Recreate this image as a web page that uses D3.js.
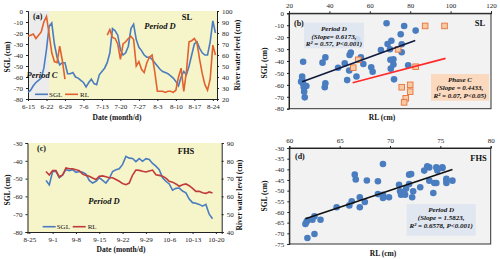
<!DOCTYPE html>
<html>
<head>
<meta charset="utf-8">
<script src="https://cdn.jsdelivr.net/npm/d3@7"></script>
<style>
body{margin:0;background:#fff}
svg{display:block}
text{font-family:"Liberation Serif","Times New Roman",serif}
.tick text{font-size:7px}
</style>
</head>
<body>
<svg id="chart" width="500" height="259"></svg>
<script>
// ---- (a) SL, daily series from 6-15
var aStart = "6-15";
var aSGL = [-74,-72,-68,-65,-63,-61,-52,-35,-14,-11,-30,-42,-49,-47,-47,-57,-57,-56,-60,-61,-63,-65,-69,-65,-62,-66,-67,-58,-55,-52,-47,-38,-16,-18,-22,-35,-40,-38,-32,-16,-12,-26,-33,-36,-40,-42,-42,-44,-47,-50,-53,-55,-56,-57,-59,-61,-64,-68,-60,-55,-58,-50,-40,-30,-28,-34,-38,-40,-40,-28,-9,-20];
var aRL = [77,78,79,75,78,81,90,95,79,62,54,53,68,55,38,null,null,null,null,null,null,null,null,null,null,null,null,null,null,null,78,83,76,75,70,56,70,72,75,77,74,50,54,47,44,53,58,60,45,27,27,27,26,27,27,26,28,40,48,27,45,72,73,75,71,56,43,33,28,38,69,60];
var aTicks = ["6-15","6-22","6-29","7-6","7-13","7-20","7-27","8-3","8-10","8-17","8-24"];
var aPeriodC = ["6-15","6-23"];

// ---- (b) SL scatter
var bRL_D = [27,26.5,26.6,27,26,27.3,27.5,27.8,28.6,36.6,38,38,37.7,44.3,47.6,48.8,49.8,50,50.6,53.4,53.8,55.6,56.8,60.7,61.4,65.5,68.3,68.8,70,70.7,70.2,71.7,71.7,70.4,72,75.3,75.8,75.8,77,79,82.7];
var bSGL_D = [-40.6,-53,-56,-59,-57.3,-62,-65.7,-70.5,-61,-41.4,-37,-58.7,-62,-45.6,-42,-56,-48,-35,-33,-53,-21.8,-37,-42.5,-45.3,-49,-30.8,-8.4,-25.7,-30.2,-23,-39,-38.6,-43,-46.4,-55.4,-17.6,-26,-32.7,-10.6,-43.6,-14.5];
var bRL_C = [54.3,51.8,74,75.8,80,80,77.8,77,82.7,87.4,97];
var bSGL_C = [-39,-45.6,-30.2,-62,-60,-65.7,-71.3,-74.7,-44.8,-10.6,-10.6];
var bFitD = {slope:0.6173, icpt:-73.66, from:26.5, to:82.5};
var bFitC = {slope:0.4433, icpt:-81.03, from:51.5, to:97.5};

// ---- (c) FHS, daily series from 8-30
var cStart = "8-30";
var cSGL = [-51,-53.5,-46,-46,-49.5,-48,-45,-45.5,-45,-46.5,-46,-46.5,-47.5,-51,-52.5,-51.5,-49.5,-51,-52.5,-50,-46,-45,-44.5,-42,-37.5,-38.5,-38.7,-40.5,-38.8,-40.3,-38.8,-39.2,-41.5,-43,-45,-49.5,-51.5,-53,-56.5,-55.5,-55.3,-57,-58,-61.5,-63.5,-63.8,-64.5,-65.5,-64.5,-70,-72.5];
var cRL = [74,72,74.5,74.5,71,72,76,75.5,75.5,75,74.5,72.5,71.8,71.3,70.3,69.5,71.3,71.5,71,70.5,70.5,69.5,68.5,67.2,66.6,67.5,72,74.8,74.6,74.1,73.7,74.3,74.8,72.2,71.8,71.3,70.3,68.5,68,67,65.7,66.5,67,66,64.5,62.8,62.9,62,61.7,62.5,61.9];
var cTicks = ["8-25","9-1","9-8","9-15","9-22","9-29","10-6","10-13","10-20"];

// ---- (d) FHS scatter
var dRL = [61.6,61.7,61.8,61.8,62.3,62.5,62.5,63.1,64.7,65.96,66.2,66.5,66.6,67,67,67.5,67.7,68.8,68.8,69.3,69.3,69.3,69.9,70.9,71,71.1,71.4,71.5,71.6,71.9,71.9,72.1,72.2,72.3,73,73.4,73.7,73.9,73.9,74.3,74.4,74.6,74.6,74.7,75.2,75.2,75.6,75.6,75.6,76.2];
var dSGL = [-65.6,-64.7,-64,-72.2,-63.6,-62,-70.3,-63.6,-57.8,-56.9,-55,-42.5,-44.8,-53.1,-57.8,-55.3,-45.2,-45.6,-51.6,-37.5,-53.4,-51.9,-53.1,-47.2,-50.3,-51.9,-50.6,-51.9,-49,-46.9,-42.5,-42.2,-53.1,-50.3,-48.4,-40.6,-38.6,-39.1,-45.3,-51.1,-46.4,-46.4,-39.1,-40.6,-39.1,-39.4,-44.4,-45.3,-46.4,-45.3];
var dFit = {slope:1.5823, icpt:-160.6, from:61.6, to:76.2};

var BLUE = "#4a7dc0", ORANGE = "#e1622f", RED = "#c23b3b";
var YELLOW = "#f6f4c9", GRAY = "#ececec", PANEL = "#f2f2f2";

var svg = d3.select("#chart");
var parse = d3.timeParse("%m-%d");
var fmtDay = d3.timeFormat("%-m-%-d");
var num = function(d){ return String(d); };

function daily(start, vals){
	var s = parse(start);
	return vals.map(function(v,i){ return {t:d3.timeDay.offset(s,i), v:v}; });
}

function label(x, y, str, size, opts){
	opts = opts || {};
	var t = svg.append("text").attr("x", x).attr("y", y)
		.attr("font-size", size + "px")
		.attr("font-weight", opts.weight || "bold")
		.attr("font-style", opts.italic ? "italic" : "normal")
		.attr("text-anchor", opts.anchor || "middle")
		.attr("fill", "#111")
		.text(str);
	if (opts.rotate) t.attr("transform", "rotate(-90," + x + "," + y + ")");
	return t;
}

function styleAxis(g){
	g.selectAll(".domain").attr("stroke", "#222");
	g.selectAll(".tick line").attr("stroke", "#222");
	g.selectAll(".tick text").attr("fill", "#222");
}

// time series panel (a) and (c)
function timePanel(cfg){
	var x = d3.scaleTime().domain(cfg.xdom).range([cfg.x0, cfg.x1]);
	var yl = d3.scaleLinear().domain(cfg.ldom).range([cfg.y1, cfg.y0]);
	var yr = d3.scaleLinear().domain(cfg.rdom).range([cfg.y1, cfg.y0]);

	svg.append("rect").attr("x", cfg.x0).attr("y", cfg.y0)
		.attr("width", cfg.x1 - cfg.x0).attr("height", cfg.y1 - cfg.y0)
		.attr("fill", YELLOW);
	if (cfg.shade){
		svg.append("rect").attr("x", x(parse(cfg.shade[0]))).attr("y", cfg.y0)
			.attr("width", x(parse(cfg.shade[1])) - x(parse(cfg.shade[0])))
			.attr("height", cfg.y1 - cfg.y0).attr("fill", GRAY);
	}

	var gl = svg.append("g").attr("transform", "translate(" + cfg.x0 + ",0)")
		.call(d3.axisLeft(yl).tickValues(d3.range(cfg.ldom[0], cfg.ldom[1] + 1, 10)).tickSize(2).tickFormat(num));
	var gr = svg.append("g").attr("transform", "translate(" + cfg.x1 + ",0)")
		.call(d3.axisRight(yr).tickValues(d3.range(cfg.rdom[0], cfg.rdom[1] + 1, 10)).tickSize(2).tickFormat(num));
	var gb = svg.append("g").attr("transform", "translate(0," + cfg.y1 + ")")
		.call(d3.axisBottom(x).tickValues(cfg.ticks.map(parse)).tickSize(2).tickFormat(fmtDay));
	[gl, gr, gb].forEach(styleAxis);

	var line = function(sc){
		return d3.line().defined(function(d){ return d.v != null; })
			.x(function(d){ return x(d.t); }).y(function(d){ return sc(d.v); });
	};
	svg.append("path").datum(cfg.sgl).attr("fill", "none").attr("stroke", BLUE)
		.attr("stroke-width", 1.6).attr("d", line(yl));
	svg.append("path").datum(cfg.rl).attr("fill", "none").attr("stroke", cfg.rlColor)
		.attr("stroke-width", 1.6).attr("d", line(yr));

	// legend
	var L = cfg.legend;
	svg.append("line").attr("x1", L[0]).attr("x2", L[0] + 13).attr("y1", L[1]).attr("y2", L[1])
		.attr("stroke", BLUE).attr("stroke-width", 1.6);
	label(L[0] + 14, L[1] + 2.5, "SGL", 7, {anchor:"start", weight:"normal"});
	svg.append("line").attr("x1", L[0] + 30).attr("x2", L[0] + 43).attr("y1", L[1]).attr("y2", L[1])
		.attr("stroke", cfg.rlColor).attr("stroke-width", 1.6);
	label(L[0] + 45, L[1] + 2.5, "RL", 7, {anchor:"start", weight:"normal"});
}

// scatter panel (b) and (d)
function scatterPanel(cfg){
	var x = d3.scaleLinear().domain(cfg.xdom).range([cfg.x0, cfg.x1]);
	var y = d3.scaleLinear().domain(cfg.ydom).range([cfg.y1, cfg.y0]);
	svg.append("rect").attr("x", cfg.x0).attr("y", cfg.y0)
		.attr("width", cfg.x1 - cfg.x0).attr("height", cfg.y1 - cfg.y0)
		.attr("fill", PANEL).attr("stroke", "#333").attr("stroke-width", 1);
	var gt = svg.append("g").attr("transform", "translate(0," + cfg.y0 + ")")
		.call(d3.axisTop(x).tickValues(cfg.xticks).tickSize(2).tickFormat(num));
	var gl = svg.append("g").attr("transform", "translate(" + cfg.x0 + ",0)")
		.call(d3.axisLeft(y).tickValues(cfg.yticks).tickSize(2).tickFormat(num));
	[gt, gl].forEach(styleAxis);
	cfg.x = x; cfg.y = y;
	return cfg;
}

function fitLine(p, f, color){
	svg.append("line")
		.attr("x1", p.x(f.from)).attr("y1", p.y(f.slope * f.from + f.icpt))
		.attr("x2", p.x(f.to)).attr("y2", p.y(f.slope * f.to + f.icpt))
		.attr("stroke", color).attr("stroke-width", 1.6);
}

function noteBox(x, y, w, h, fill, lines){
	svg.append("rect").attr("x", x).attr("y", y).attr("width", w).attr("height", h)
		.attr("fill", fill).attr("fill-opacity", 0.88);
	lines.forEach(function(s, i){
		label(x + w / 2, y + 8.3 + i * 7.6, s, 7, {italic:true});
	});
}

// ===== (a)
timePanel({
	x0:28, x1:217, y0:11, y1:99,
	xdom:[parse("6-15"), d3.timeHour.offset(parse("8-25"), 14)],
	ldom:[-80,0], rdom:[20,100],
	ticks:aTicks, shade:aPeriodC,
	sgl:daily(aStart, aSGL), rl:daily(aStart, aRL), rlColor:ORANGE,
	legend:[35, 94.3]
});
label(33, 18.5, "(a)", 8, {anchor:"start"});
label(187, 19.5, "SL", 8.5);
label(160, 28.5, "Period D", 8.5, {italic:true});
label(42, 77.5, "Period C", 8.5, {italic:true});
label(117, 119.5, "Date (month/d)", 7.5);
label(9.5, 57, "SGL (cm)", 7.5, {rotate:true});
label(239.5, 55, "River water level (cm)", 7.5, {rotate:true});

// ===== (b)
var pb = scatterPanel({
	x0:289, x1:491, y0:13.3, y1:108.7,
	xdom:[20,120], ydom:[-80,0],
	xticks:d3.range(20,121,20), yticks:d3.range(-80,1,10)
});
pb.g = svg.append("g");
pb.g.selectAll("circle").data(d3.zip(bRL_D, bSGL_D)).enter().append("circle")
	.attr("cx", function(d){ return pb.x(d[0]); })
	.attr("cy", function(d){ return pb.y(d[1]); })
	.attr("r", 3.3).attr("fill", BLUE);
pb.g.selectAll("rect").data(d3.zip(bRL_C, bSGL_C)).enter().append("rect")
	.attr("x", function(d){ return pb.x(d[0]) - 2.8; })
	.attr("y", function(d){ return pb.y(d[1]) - 2.8; })
	.attr("width", 5.6).attr("height", 5.6)
	.attr("fill", "#f9c9a3").attr("stroke", "#e8743b").attr("stroke-width", 0.9);
fitLine(pb, bFitD, "#0f1a3d");
fitLine(pb, bFitC, "#ff2a2a");
noteBox(304, 22.7, 60, 25.6, "#dde5f0", ["Period D", "(Slope= 0.6173,", "R\u00b2 = 0.57, P<0.001)"]);
noteBox(431, 74, 58, 26.7, "#fbd5b6", ["Phase C", "(Slope = 0.4433,", "R\u00b2 = 0.07,  P<0.05)"]);
label(294, 26, "(b)", 8, {anchor:"start"});
label(480, 26, "SL", 8.5);
label(382, 119.5, "RL (cm)", 7.5);
label(267, 63, "SGL (cm)", 7.5, {rotate:true});

// ===== (c)
timePanel({
	x0:27.5, x1:221.7, y0:143, y1:232,
	xdom:[d3.timeHour.offset(parse("8-25"), -13), d3.timeHour.offset(parse("8-25"), 1386)],
	ldom:[-80,-30], rdom:[40,90],
	ticks:cTicks,
	sgl:daily(cStart, cSGL), rl:daily(cStart, cRL), rlColor:RED,
	legend:[42.7, 226.7]
});
label(37, 150.5, "(c)", 8, {anchor:"start"});
label(186, 154, "FHS", 8.5);
label(104, 204, "Period D", 8.5, {italic:true});
label(121, 251.5, "Date (month/d)", 7.5);
label(9.5, 190, "SGL (cm)", 7.5, {rotate:true});
label(241.5, 195, "River water level (cm)", 7.5, {rotate:true});

// ===== (d)
var pd = scatterPanel({
	x0:289.3, x1:490.7, y0:148, y1:244,
	xdom:[60,80], ydom:[-75,-30],
	xticks:d3.range(60,81,5), yticks:d3.range(-75,-29,5)
});
pd.g = svg.append("g");
pd.g.selectAll("circle").data(d3.zip(dRL, dSGL)).enter().append("circle")
	.attr("cx", function(d){ return pd.x(d[0]); })
	.attr("cy", function(d){ return pd.y(d[1]); })
	.attr("r", 3.3).attr("fill", BLUE);
fitLine(pd, dFit, "#111");
noteBox(406.7, 204, 69, 31.7, "#dde5f0", ["Period D", "(Slope = 1.5823,", "R\u00b2 = 0.6578, P<0.001)"]);
label(295, 159, "(d)", 8, {anchor:"start"});
label(478.5, 161, "FHS", 8.5);
label(383, 255.5, "RL (cm)", 7.5);
label(267, 196, "SGL (cm)", 7.5, {rotate:true});
</script>
</body>
</html>
